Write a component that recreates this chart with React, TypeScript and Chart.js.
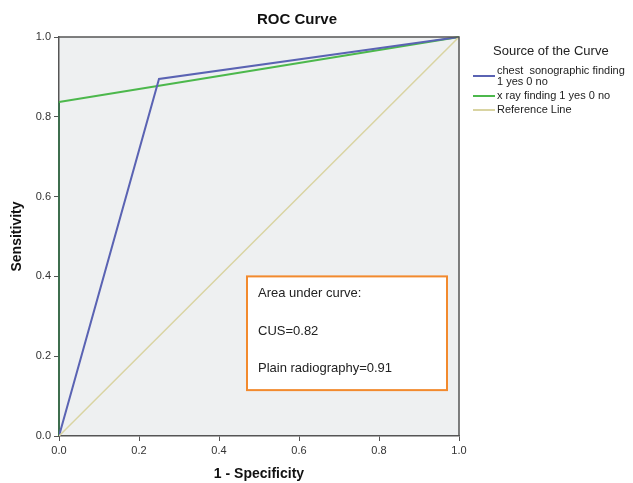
import React, { useEffect, useRef } from "react";
import { Chart, registerables } from "chart.js";

Chart.register(...registerables);

const cusFpr = [0, 0.25, 1];
const cusTpr = [0, 0.895, 1];
const xrayFpr = [0, 0, 1];
const xrayTpr = [0, 0.837, 1];
const refFpr = [0, 1];
const refTpr = [0, 1];
const tickValues = [0, 0.2, 0.4, 0.6, 0.8, 1.0];
const seriesLabels = ["chest  sonographic finding\n1 yes 0 no", "x ray finding 1 yes 0 no", "Reference Line"];
const seriesColors = ["#5a63b3", "#4cb84c", "#d9d4a2"];
const aucLines = ["Area under curve:", "CUS=0.82", "Plain radiography=0.91"];
const chartTitle = "ROC Curve";
const legendTitle = "Source of the Curve";

const pts = (xs: number[], ys: number[]) => xs.map((x, i) => ({ x, y: ys[i] }));

export default function App() {
  const ref = useRef<HTMLCanvasElement>(null);
  useEffect(() => {
    document.body.style.margin = "0";
    const deco = {
      id: "deco",
      beforeDraw(chart: any) {
        const { ctx, chartArea: a } = chart;
        ctx.save();
        ctx.fillStyle = "#ffffff";
        ctx.fillRect(0, 0, chart.width, chart.height);
        ctx.fillStyle = "#eef0f1";
        ctx.fillRect(a.left, a.top, a.right - a.left, a.bottom - a.top);
        ctx.restore();
      },
      afterDraw(chart: any) {
        const { ctx, chartArea: a } = chart;
        ctx.save();
        ctx.strokeStyle = "#555555";
        ctx.lineWidth = 1.5;
        ctx.beginPath();
        ctx.moveTo(a.left, a.top);
        ctx.lineTo(a.right, a.top);
        ctx.lineTo(a.right, a.bottom);
        ctx.stroke();
        // title
        ctx.fillStyle = "#111";
        ctx.font = "bold 15px 'Liberation Sans', Arial, sans-serif";
        ctx.textAlign = "center";
        ctx.textBaseline = "middle";
        ctx.fillText(chartTitle, 297, 20);
        // legend
        ctx.font = "13px 'Liberation Sans', Arial, sans-serif";
        ctx.fillStyle = "#222";
        ctx.textAlign = "left";
        ctx.fillText(legendTitle, 493, 51);
        ctx.font = "11px 'Liberation Sans', Arial, sans-serif";
        const ys = [76, 96, 110];
        seriesLabels.forEach((lab, i) => {
          ctx.strokeStyle = seriesColors[i];
          ctx.lineWidth = 2;
          ctx.beginPath();
          ctx.moveTo(473, ys[i]);
          ctx.lineTo(495, ys[i]);
          ctx.stroke();
          const parts = lab.split("\n");
          if (parts.length > 1) {
            ctx.fillText(parts[0], 497, ys[i] - 5);
            ctx.fillText(parts[1], 497, ys[i] + 6);
          } else {
            ctx.fillText(parts[0], 497, ys[i]);
          }
        });
        // AUC box
        const x = chart.scales.x, y = chart.scales.y;
        const bx = x.getPixelForValue(0.47), bx2 = x.getPixelForValue(0.97);
        const by = y.getPixelForValue(0.4), by2 = y.getPixelForValue(0.115);
        ctx.fillStyle = "#ffffff";
        ctx.fillRect(bx, by, bx2 - bx, by2 - by);
        ctx.strokeStyle = "#f28a2e";
        ctx.lineWidth = 2;
        ctx.strokeRect(bx, by, bx2 - bx, by2 - by);
        ctx.fillStyle = "#222";
        ctx.font = "13px 'Liberation Sans', Arial, sans-serif";
        const ty = [293, 331, 368];
        aucLines.forEach((t, i) => ctx.fillText(t, 258, ty[i]));
        ctx.restore();
      },
    };
    const chart = new Chart(ref.current!, {
      type: "scatter",
      data: {
        datasets: [
          { label: "ref", data: pts(refFpr, refTpr), showLine: true, borderColor: seriesColors[2], borderWidth: 1.5, pointRadius: 0 },
          { label: "cus", data: pts(cusFpr, cusTpr), showLine: true, borderColor: seriesColors[0], borderWidth: 2, pointRadius: 0 },
          { label: "xray", data: pts(xrayFpr, xrayTpr), showLine: true, borderColor: "#3f8f4f", borderWidth: 2, pointRadius: 0, clip: false,
            segment: { borderColor: (c: any) => (c.p0DataIndex === 0 ? "#3d6e4e" : seriesColors[1]) } },
        ],
      },
      options: {
        animation: false,
        responsive: false,
        layout: { padding: { left: 0, top: 37, right: 174, bottom: 0 } },
        plugins: { legend: { display: false }, tooltip: { enabled: false } },
        scales: {
          x: {
            type: "linear",
            min: 0,
            max: 1,
            afterFit: (s: any) => { s.height = 47; },
            afterBuildTicks: (s: any) => { s.ticks = tickValues.map((v) => ({ value: v })); },
            ticks: { callback: (v: any) => Number(v).toFixed(1), font: { size: 11, family: "'Liberation Sans', Arial" }, color: "#333", padding: 3, maxRotation: 0 },
            grid: { drawOnChartArea: false, tickLength: 5, color: "#555" },
            border: { color: "#555", width: 1.5 },
            title: { display: true, text: "1 - Specificity", font: { size: 14, weight: "bold", family: "'Liberation Sans', Arial" }, color: "#111", padding: 0 },
          },
          y: {
            type: "linear",
            min: 0,
            max: 1,
            afterFit: (s: any) => { s.width = 59; },
            afterBuildTicks: (s: any) => { s.ticks = tickValues.map((v) => ({ value: v })); },
            ticks: { callback: (v: any) => Number(v).toFixed(1), font: { size: 11, family: "'Liberation Sans', Arial" }, color: "#333", padding: 3 },
            grid: { drawOnChartArea: false, tickLength: 5, color: "#555" },
            border: { color: "#555", width: 1.5 },
            title: { display: true, text: "Sensitivity", font: { size: 14, weight: "bold", family: "'Liberation Sans', Arial" }, color: "#111", padding: { top: 9, bottom: 0 } },
          },
        },
      },
      plugins: [deco],
    } as any);
    return () => chart.destroy();
  }, []);
  return (
    <div style={{ position: "absolute", left: 0, top: 0 }}>
      <canvas ref={ref} width={633} height={483} style={{ width: 633, height: 483, display: "block" }} />
    </div>
  );
}
